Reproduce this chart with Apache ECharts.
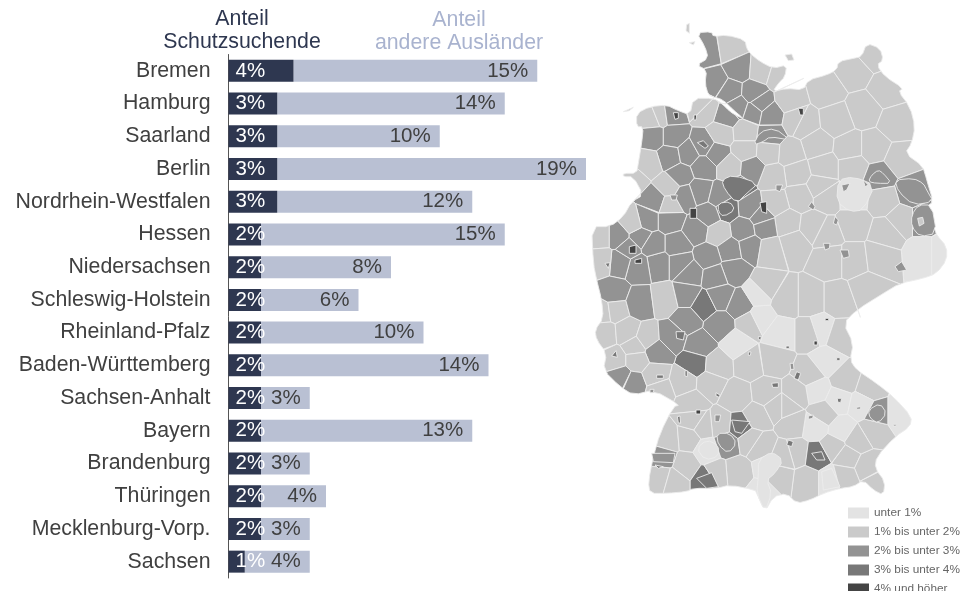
<!DOCTYPE html>
<html><head><meta charset="utf-8">
<style>html,body{margin:0;padding:0;background:#fff}#c{width:963px;height:591px}</style>
<script src="https://cdn.jsdelivr.net/npm/echarts@6/dist/echarts.min.js"></script>
</head><body><div id="c"></div>
<script>
const states=["Bremen","Hamburg","Saarland","Berlin","Nordrhein-Westfalen","Hessen","Niedersachsen","Schleswig-Holstein","Rheinland-Pfalz","Baden-Württemberg","Sachsen-Anhalt","Bayern","Brandenburg","Thüringen","Mecklenburg-Vorp.","Sachsen"];
const schutzsuchende=[4,3,3,3,3,2,2,2,2,2,2,2,2,2,2,1];
const andereAuslaender=[15,14,10,19,12,15,8,6,10,14,3,13,3,4,3,4];
const classLabels=["unter 1%","1% bis unter 2%","2% bis unter 3%","3% bis unter 4%","4% und höher"];
const classColors=["#e3e3e3","#cacaca","#939393","#787878","#444444"];
// Germany outline
const outline=[320,38,365,35,370,50,410,45,465,60,470,85,480,100,510,125,550,145,590,135,585,170,565,190,548,215,590,205,640,210,655,180,710,165,740,150,745,125,790,115,815,110,830,70,870,85,880,120,860,135,885,170,940,205,925,215,960,260,975,320,965,370,945,400,1000,440,1010,480,1030,545,1010,560,1035,630,1040,645,1070,680,1070,720,1040,760,1000,775,930,790,880,820,800,870,760,910,790,970,780,1020,800,1050,860,1090,910,1130,965,1190,960,1220,915,1250,860,1310,855,1345,885,1385,880,1425,850,1410,820,1380,790,1400,750,1405,700,1420,660,1440,620,1450,590,1420,550,1430,525,1475,500,1420,495,1410,420,1395,380,1405,310,1405,290,1415,230,1420,180,1420,175,1385,190,1310,210,1240,250,1160,270,1155,190,1110,130,1125,90,1100,40,1050,50,1000,20,960,15,930,40,895,35,840,20,780,10,730,5,620,60,620,100,590,125,545,160,525,130,470,100,470,100,460,140,460,145,430,155,370,160,320,140,320,140,280,180,260,230,255,260,270,300,285,310,235,370,235,395,250,420,275,445,290,460,295,430,270,400,240,370,230,355,225,345,190,350,150,320,135,355,115,345,80];
// district class read at [class,x,y] (north part)
const districtsNorth=[
[2,355,95],[1,420,85],[2,375,185],[2,445,145],[1,515,150],[1,565,165],[2,420,215],[2,490,220],[2,445,260],[2,490,275],[2,510,250],[2,540,285],[2,410,290],[1,345,270],
[1,600,240],[1,710,210],[1,790,155],[1,850,100],[1,890,210],[1,820,270],[1,640,310],[1,920,310],
[1,680,375],[1,780,385],[1,850,385],[1,930,420],[1,700,440],[1,790,440],[2,868,470],[2,965,515],[2,1000,600],[0,790,530],[1,880,540],[1,890,640],[1,935,600],[0,1000,700],[0,1050,700],
[1,600,400],[1,620,460],[1,690,500],[1,550,470],[1,630,530],[1,710,530],[1,590,610],[1,670,620],[1,790,610],[1,710,640],[1,790,720],[1,870,710],[1,610,670],[1,720,720],
[1,185,295],[1,210,285],[2,245,280],[2,190,350],[2,250,350],[2,240,410],[2,295,400],[2,340,375],[2,380,400],[2,340,440],[2,270,465],[1,335,260],[1,395,340],[1,465,335],[2,540,345],[1,465,390],[1,535,395],[2,485,445],[3,445,505],[1,175,430],[1,130,480],[1,235,500],[1,420,440],[1,620,300],[1,740,300],
[2,195,540],[2,330,515],[2,390,530],[2,480,560],[3,410,565],[2,515,590],[2,355,585],[2,170,600],[2,240,600],[2,320,630],[2,260,675],[2,460,630],[2,525,620],[1,385,640],[2,420,690],[2,480,680],[2,355,710],[2,430,750],[2,270,730],[2,205,730],[2,145,740],[2,90,725],[2,85,650],[2,150,650],[2,115,685],[2,190,675],[1,30,650],[1,35,720],[1,130,610],[1,240,555],[2,285,530],[2,300,760],[2,375,770],[1,555,550],[1,540,690]
];
// district class read at [class,x,y] (south part, y counted from its own top)
const districtsSouth=[
[1,40,95],[2,70,40],[1,75,90],[1,45,160],[1,110,155],[2,150,70],[1,225,60],[2,290,45],[3,340,75],[2,390,50],[2,450,75],[2,390,135],[2,290,120],[1,135,200],[1,170,175],[2,245,170],[2,330,195],[3,315,250],[2,200,215],[1,75,240],[1,140,240],[2,90,290],[2,130,310],[1,195,285],[1,280,305],[1,210,330],[1,380,255],[1,360,310],[0,440,190],[1,480,130],[0,510,115],[0,505,40],[1,525,20],[1,590,60],[1,660,60],[1,745,60],[1,830,30],[0,570,160],[0,690,150],[1,660,160],[1,750,170],[1,550,240],[1,480,250],[0,710,245],[1,765,300],[1,660,285],[0,680,330],[1,440,350],[1,530,340],[1,620,340],[0,745,360],[1,840,325],[0,815,375],[0,925,400],[1,850,450],[0,755,450],[1,700,400],[0,675,440],[1,390,435],[1,500,410],[1,610,430],[1,510,500],[1,235,480],[1,295,475],[1,305,370],[1,310,420],[0,352,510],[1,285,555],[1,215,590],[1,440,575],[1,620,520],[1,650,600],[1,770,530],[1,835,560],[2,410,490],[3,450,440],[2,862,400],[3,680,528],[2,220,533],[3,350,600],[0,535,560],[0,520,640],[0,722,600],[1,590,380],[1,570,590],[1,760,590],[1,860,610],[1,250,600],[1,380,580],[1,480,480],[1,340,440],[1,560,380],[1,585,530],[1,730,500],[1,800,480]
];
// distinct district shapes and small towns drawn over the tiling, north part
const overlaysNorth=[
[2,490,375,510,335,555,325,600,360,540,350,520,365],
[3,395,480,430,465,505,490,470,520,440,550,405,510],
[3,385,550,420,545,435,570,400,590,385,575],
[0,745,480,790,470,855,495,820,570,780,575,740,545],
[2,865,450,880,460,905,490,860,490,835,485,845,465],
[2,915,480,970,475,1000,490,1010,510,1030,545,970,555,925,515],
[2,965,585,985,555,1025,555,1040,640,990,650,965,620],
[1,983,595,998,592,1002,610,988,618],
[2,915,740,935,725,950,750,925,755],
[2,665,545,675,560,670,570,655,560],
[2,735,590,745,600,740,615,730,610],
[2,700,670,720,670,718,685,705,690],
[2,750,690,775,690,778,710,760,715],
[2,755,495,780,490,770,510,760,515],
[2,820,480,835,495,825,500],
[2,558,495,578,495,570,515,558,510],
[4,625,265,640,265,640,285,630,285],
[4,250,278,265,278,265,295,255,298],
[4,312,285,320,285,318,300,312,300],
[2,240,525,262,525,258,540,245,540],
[4,300,565,320,565,320,595,300,595],
[4,510,548,530,545,530,580,515,575],
[4,118,680,138,675,138,700,118,700],
[4,135,720,155,715,155,730,135,730],
[3,45,730,60,728,55,745],
[3,322,368,340,362,355,378,345,385],
[1,290,14,298,10,298,40,288,32],
[1,298,68,315,65,310,75],
[1,100,275,130,262,118,272],
[1,585,105,605,102,612,120,595,122]
];
// same, south part
const overlaysSouth=[
[2,380,460,420,460,440,490,415,520,385,495],
[3,425,420,480,425,455,460,435,455],
[2,835,390,870,370,890,400,865,430,840,415],
[3,665,520,695,515,705,540,680,540],
[2,185,520,255,520,250,548,190,545],
[3,320,595,365,578,385,620,350,625],
[0,505,540,545,515,580,540,555,580,530,600,545,640,525,695,500,640,505,590],
[0,695,575,725,565,750,620,700,630],
[0,320,505,350,480,385,495,385,530,345,540],
[3,258,155,285,155,280,180,260,175],
[3,195,555,220,560,205,565],
[4,318,390,332,390,332,402,318,402],
[3,262,410,270,408,272,430,265,428],
[3,620,275,632,280,625,300,612,295],
[3,545,310,565,308,565,322,548,322],
[3,595,480,610,485,605,500,590,495],
[3,742,355,755,355,752,368,743,366],
[4,672,183,682,183,682,195,672,195],
[4,705,115,716,115,716,122,706,122],
[3,588,198,598,198,598,206,588,206],
[3,740,233,750,233,750,242,740,242],
[3,505,170,514,170,512,180,505,178],
[3,475,216,483,216,481,226,475,226],
[3,200,285,220,285,220,295,200,295],
[3,65,228,78,212,82,232],
[3,285,272,292,272,292,290,285,288],
[3,378,338,390,345,388,352,378,348],
[2,375,405,392,405,388,425,375,425],
[2,655,408,670,405,668,415,655,418],
[2,910,433,920,433,918,438,910,438],
[2,800,382,812,380,812,387,800,388],
[2,600,250,610,250,612,268,602,268],
[2,180,328,192,328,190,338,180,338]
];
const SOUTH_OFFSET=780;
function toRing(a,dy){
 let r=[];for(let i=0;i<a.length;i+=2)r.push([a[i],a[i+1]+dy]);
 if(r.length>4){const c=[];r.forEach((p,i)=>{const q=r[(i+1)%r.length];c.push([.75*p[0]+.25*q[0],.75*p[1]+.25*q[1]],[.25*p[0]+.75*q[0],.25*p[1]+.75*q[1]]);});r=c;}
 return r;
}
function clipNearer(poly,a,b){ // keep the part of poly closer to a than to b
 const f=p=>(p[0]-a[0])**2+(p[1]-a[1])**2-(p[0]-b[0])**2-(p[1]-b[1])**2;
 const out=[];
 poly.forEach((p,i)=>{const q=poly[(i+1)%poly.length],fp=f(p),fq=f(q);
  if(fp<=0)out.push(p);
  if(fp*fq<0){const t=fp/(fp-fq);out.push([p[0]+t*(q[0]-p[0]),p[1]+t*(q[1]-p[1])]);}});
 return out;
}
const features=[],mapData=[];
function add(name,cls,ring){const r=ring.map(p=>[p[0],-p[1]]);r.push(r[0]);features.push({type:'Feature',properties:{name},geometry:{type:'Polygon',coordinates:[r]}});mapData.push({name,value:cls});}
const outlineRing=toRing(outline,0);
const districts=districtsNorth.concat(districtsSouth.map(d=>[d[0],d[1],d[2]+SOUTH_OFFSET]));
districts.forEach((d,i)=>{
 let cell=outlineRing;const a=[d[1],d[2]];
 districts.forEach((e,j)=>{if(i!==j&&cell.length)cell=clipNearer(cell,a,[e[1],e[2]]);});
 if(cell.length>2)add('d'+i,d[0],cell);
});
overlaysNorth.forEach((s,i)=>add('n'+i,s[0],toRing(s.slice(1),0)));
overlaysSouth.forEach((s,i)=>add('s'+i,s[0],toRing(s.slice(1),SOUTH_OFFSET)));
echarts.registerMap('kreise',{type:'FeatureCollection',features});
const chart=echarts.init(document.getElementById('c'),null,{renderer:'canvas'});
const font='"Liberation Sans",Arial,sans-serif';
chart.setOption({
 animation:false,
 title:[
  {text:'Anteil\nSchutzsuchende',left:237,top:3,textAlign:'center',textStyle:{fontFamily:font,fontSize:21.3,fontWeight:'normal',color:'#2e3750',lineHeight:23}},
  {text:'Anteil\nandere Ausländer',left:454,top:4,textAlign:'center',textStyle:{fontFamily:font,fontSize:21.3,fontWeight:'normal',color:'#a9b3cf',lineHeight:23}}
 ],
 grid:{left:228.5,top:54.5,width:406.25,height:523.5,containLabel:false},
 xAxis:{type:'value',min:0,max:25,show:false},
 yAxis:{type:'category',inverse:true,data:states,axisTick:{show:false},axisLine:{lineStyle:{color:'#555',width:1}},axisLabel:{fontFamily:font,fontSize:21.3,color:'#404040',margin:18}},
 visualMap:{type:'piecewise',seriesIndex:2,left:833,top:492,orient:'vertical',inverse:true,align:'left',itemWidth:21,itemHeight:11,itemGap:7,itemSymbol:'rect',selectedMode:false,hoverLink:false,
  textGap:5,textStyle:{fontFamily:font,fontSize:11.8,color:'#666'},
  pieces:classLabels.map((label,i)=>({value:i,label,color:classColors[i]}))},
 series:[
  {type:'bar',stack:'a',data:schutzsuchende,barWidth:22,itemStyle:{color:'#2e3750'},z:3,
   label:{show:true,position:'insideLeft',distance:7,fontFamily:font,fontSize:20.5,color:'#fff',formatter:'{c}%'}},
  {type:'bar',stack:'a',data:andereAuslaender,barWidth:22,itemStyle:{color:'#b9c0d3'},z:2,
   label:{show:true,position:'insideRight',distance:9,fontFamily:font,fontSize:20.5,color:'#404040',formatter:'{c}%'}},
  {type:'map',map:'kreise',data:mapData,left:590,top:20,width:373,height:571,aspectScale:1,
   boundingCoords:[[0,0],[1119,-1713]],roam:false,silent:true,selectedMode:false,label:{show:false},emphasis:{disabled:true},
   itemStyle:{borderColor:'#ececec',borderWidth:0.9}}
 ]
});
</script></body></html>
